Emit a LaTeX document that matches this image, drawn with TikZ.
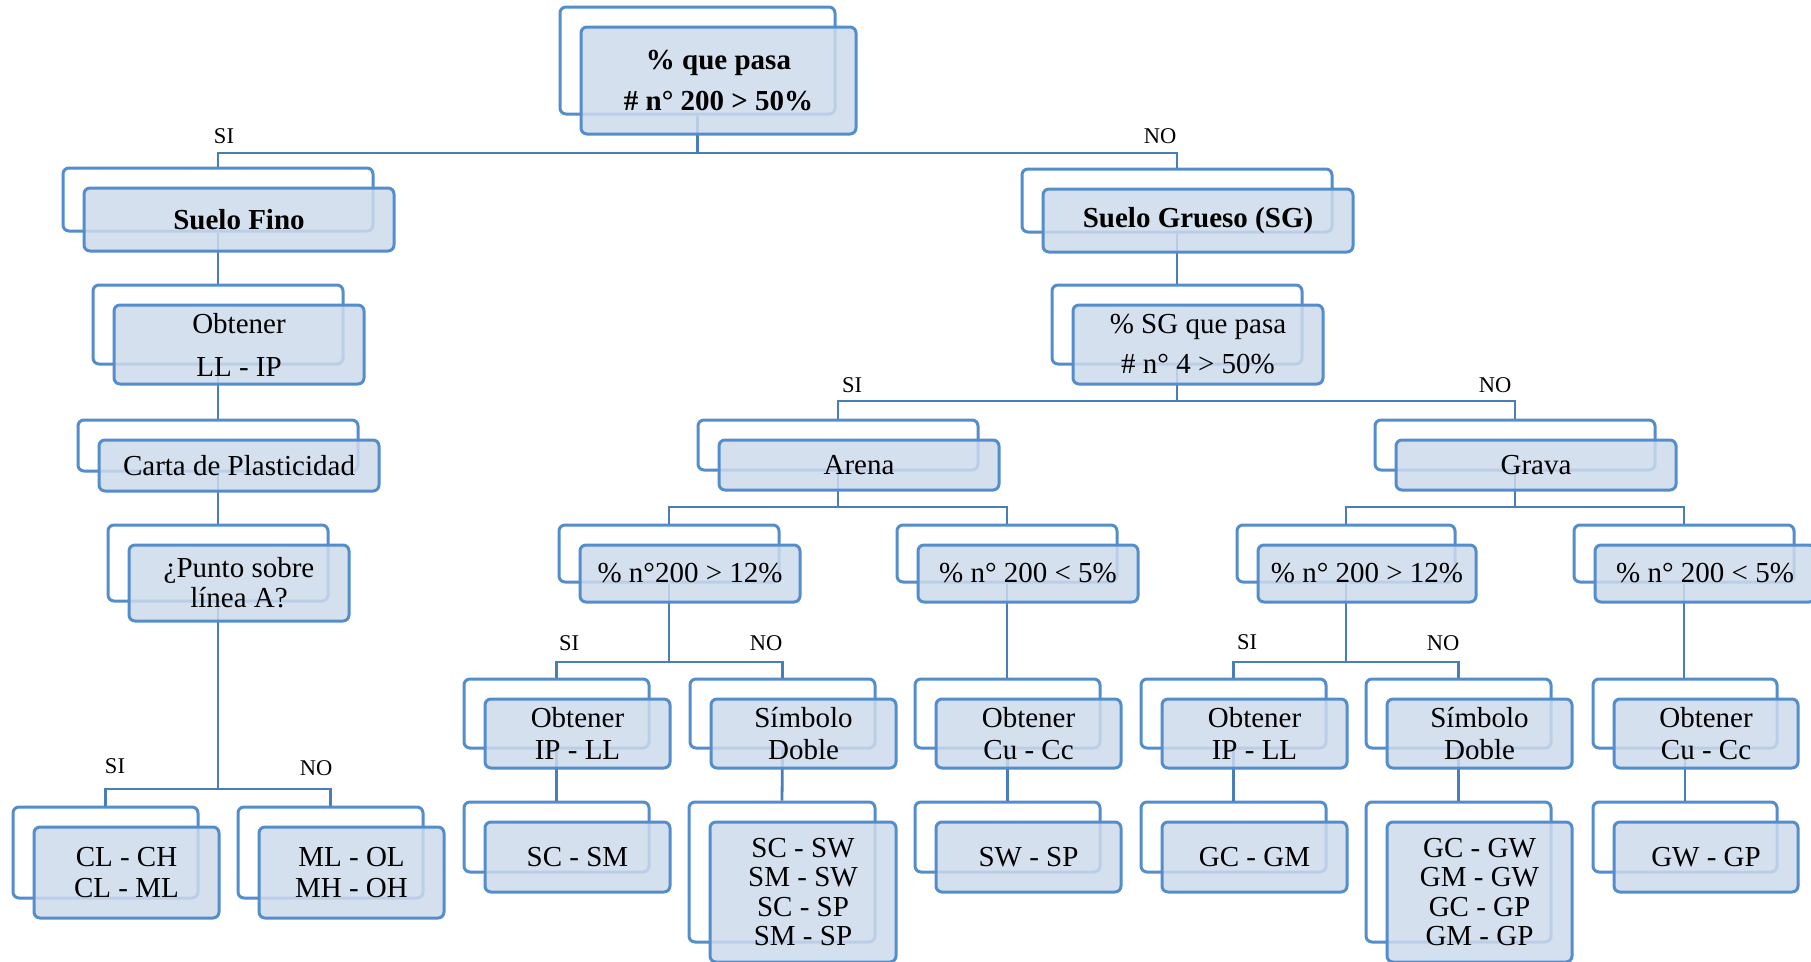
\documentclass[tikz,border=0pt]{standalone}
\usepackage{fontspec}
\setmainfont{Liberation Serif}
\definecolor{bline}{RGB}{83,141,204}
\definecolor{bfill}{RGB}{206,218,236}
\definecolor{cline}{RGB}{74,126,187}
\pgfdeclarelayer{bg}
\pgfdeclarelayer{fg}
\pgfsetlayers{bg,main,fg}
\tikzset{
  backbox/.style={draw=bline, line width=3pt, rounded corners=6pt, inner sep=0pt},
  frontbox/.style={draw=bline, line width=3pt, rounded corners=6pt, inner sep=0pt,
    fill=bfill, fill opacity=0.85, text opacity=1, align=center,
    font=\fontsize{29}{33}\selectfont},
  conn/.style={draw=cline, line width=2.8pt},
  lbl/.style={font=\fontsize{22.5}{26}\selectfont, anchor=base, inner sep=0pt},
}
\newcommand\tbox[7][]{%
  \begin{pgfonlayer}{bg}
    \node[backbox, minimum width={#5-#3}, minimum height={#6-#4}] (#2B) at ({(#3+#5)/2},{(#4+#6)/2}) {};
  \end{pgfonlayer}
  \begin{pgfonlayer}{fg}
    \node[frontbox, minimum width={#5-#3}, minimum height={#6-#4}, #1] (#2) at ({(#3+#5)/2+21},{(#4+#6)/2+20}) {#7};
  \end{pgfonlayer}
}
\begin{document}
\begin{tikzpicture}[x=1pt,y=-1pt]
\useasboundingbox (0,0) rectangle (1811,961);
% boxes
\tbox[font=\fontsize{29}{41}\selectfont\bfseries]{root}{560}{7}{835}{114}{\% que pasa\\\# n° 200 > 50\%}
\tbox[font=\fontsize{29}{33}\selectfont\bfseries]{fine}{63}{168}{373}{231}{Suelo Fino}
\tbox[font=\fontsize{29}{33}\selectfont\bfseries]{gross}{1022}{169}{1332}{232}{Suelo Grueso (SG)}
\tbox[font=\fontsize{29}{43}\selectfont]{obt1}{93}{285}{343}{364}{Obtener\\LL - IP}
\tbox[font=\fontsize{29}{40}\selectfont]{sg}{1052}{285}{1302}{364}{\% SG que pasa\\\# n° 4 > 50\%}
\tbox{carta}{78}{420}{358}{471}{Carta de Plasticidad}
\tbox[font=\fontsize{29}{30}\selectfont]{punto}{108}{525}{328}{601}{¿Punto sobre\\línea A?}
\tbox{arena}{698}{420}{978}{470}{Arena}
\tbox{grava}{1375}{420}{1655}{470}{Grava}
\tbox{aa}{559}{525}{779}{582}{\% n°200 > 12\%}
\tbox{ab}{897}{525}{1117}{582}{\% n° 200 < 5\%}
\tbox{ga}{1237}{525}{1455}{582}{\% n° 200 > 12\%}
\tbox{gb}{1574}{525}{1794}{582}{\% n° 200 < 5\%}
\tbox[font=\fontsize{29}{32}\selectfont]{aobt}{464}{679}{649}{748}{Obtener\\IP - LL}
\tbox[font=\fontsize{29}{32}\selectfont]{asim}{690}{679}{875}{748}{Símbolo\\Doble}
\tbox[font=\fontsize{29}{32}\selectfont]{acu}{915}{679}{1100}{748}{Obtener\\Cu - Cc}
\tbox[font=\fontsize{29}{32}\selectfont]{gobt}{1141}{679}{1326}{748}{Obtener\\IP - LL}
\tbox[font=\fontsize{29}{32}\selectfont]{gsim}{1366}{679}{1551}{748}{Símbolo\\Doble}
\tbox[font=\fontsize{29}{32}\selectfont]{gcu}{1593}{679}{1777}{748}{Obtener\\Cu - Cc}
\tbox[font=\fontsize{29}{31}\selectfont]{clch}{13}{807}{198}{898}{CL - CH\\CL - ML}
\tbox[font=\fontsize{29}{31}\selectfont]{mlol}{238}{807}{423}{898}{ML - OL\\MH - OH}
\tbox{scsm}{464}{802}{649}{872}{SC - SM}
\tbox[font=\fontsize{29}{29.5}\selectfont]{scsw}{689}{802}{875}{942}{SC - SW\\SM - SW\\SC - SP\\SM - SP}
\tbox{swsp}{915}{802}{1100}{872}{SW - SP}
\tbox{gcgm}{1141}{802}{1326}{872}{GC - GM}
\tbox[font=\fontsize{29}{29.5}\selectfont]{gcgw}{1366}{802}{1551}{942}{GC - GW\\GM - GW\\GC - GP\\GM - GP}
\tbox{gwgp}{1593}{802}{1777}{872}{GW - GP}
% bar coordinates
\coordinate (y153) at (0,153);
\coordinate (y401) at (0,401);
\coordinate (y507) at (0,507);
\coordinate (y662) at (0,662);
\coordinate (y789) at (0,789);
% connectors
\draw[conn] (rootB.south) -- (rootB.south |- y153) -| (fineB.north);
\draw[conn] (rootB.south |- y153) -| (grossB.north);
\draw[conn] (fineB.south) -- (obt1B.north);
\draw[conn] (obt1B.south) -- (cartaB.north);
\draw[conn] (cartaB.south) -- (puntoB.north);
\draw[conn] (puntoB.south) -- (puntoB.south |- y789) -| (clchB.north);
\draw[conn] (puntoB.south |- y789) -| (mlolB.north);
\draw[conn] (grossB.south) -- (sgB.north);
\draw[conn] (sgB.south) -- (sgB.south |- y401) -| (arenaB.north);
\draw[conn] (sgB.south |- y401) -| (gravaB.north);
\draw[conn] (arenaB.south) -- (arenaB.south |- y507) -| (aaB.north);
\draw[conn] (arenaB.south |- y507) -| (abB.north);
\draw[conn] (gravaB.south) -- (gravaB.south |- y507) -| (gaB.north);
\draw[conn] (gravaB.south |- y507) -| (gbB.north);
\draw[conn] (aaB.south) -- (aaB.south |- y662) -| (aobtB.north);
\draw[conn] (aaB.south |- y662) -| (asimB.north);
\draw[conn] (gaB.south) -- (gaB.south |- y662) -| (gobtB.north);
\draw[conn] (gaB.south |- y662) -| (gsimB.north);
\draw[conn] (abB.south) -- (abB.south |- acuB.north);
\draw[conn] (gbB.south) -- (gbB.south |- gcuB.north);
\draw[conn] (aobtB.south) -- (scsmB.north);
\draw[conn] (asimB.south) -- (scswB.north);
\draw[conn] (acuB.south) -- (swspB.north);
\draw[conn] (gobtB.south) -- (gcgmB.north);
\draw[conn] (gsimB.south) -- (gcgwB.north);
\draw[conn] (gcuB.south) -- (gwgpB.north);
% labels
\node[lbl] (l1) at (224,143) {SI};
\node[lbl] (l2) at (1160,143) {NO};
\node[lbl] (l3) at (852,392) {SI};
\node[lbl] (l4) at (1495,392) {NO};
\node[lbl] (l5) at (569,650) {SI};
\node[lbl] (l6) at (766,650) {NO};
\node[lbl] (l7) at (1247,649) {SI};
\node[lbl] (l8) at (1443,650) {NO};
\node[lbl] (l9) at (115,773) {SI};
\node[lbl] (l10) at (316,775) {NO};
\end{tikzpicture}
\end{document}
